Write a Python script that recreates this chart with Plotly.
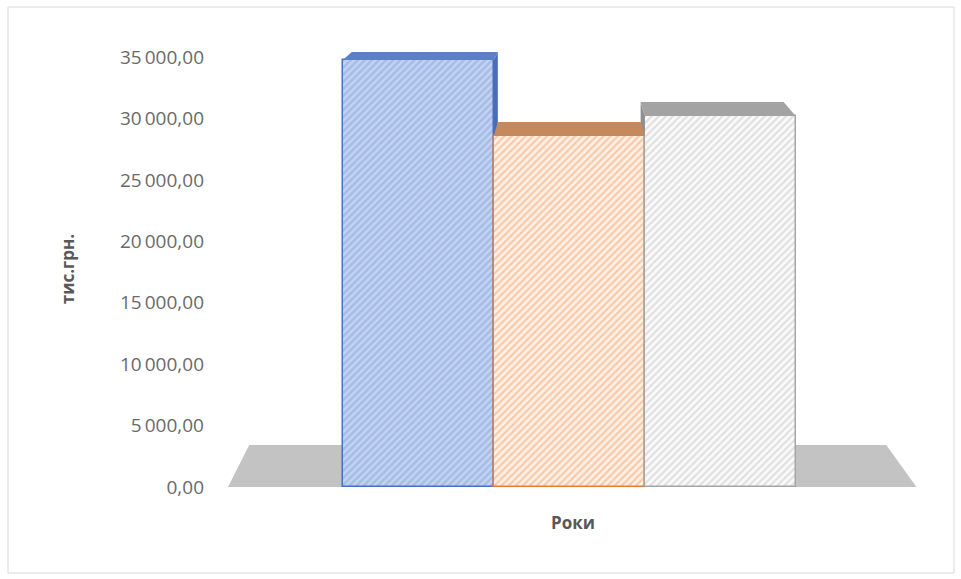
import plotly.graph_objects as go

# ---- data ----
categories = ["Рік 1", "Рік 2", "Рік 3"]
values = [34760, 28570, 30200]
y_title = "тис.грн."
x_title = "Роки"

# ---- styles ----
face_bg = ["#a7bde9", "#fff1e7", "#fafafa"]
face_fg = ["#e4ebf9", "#f3a068", "#c6c6c6"]
outline = ["#4472c4", "#ed7d31", "#a5a5a5"]
top_col = ["#5c80c6", "#c5895d", "#a3a3a3"]
side_col = ["#4a6db5", "#b87a4e", "#8f8f8f"]
depth_px = [8, 14, 14]
back_shift_l = [0.06, 0.027, -0.027]
back_shift_r = [0.027, -0.027, -0.08]

Y_MAX = 35500
PLOT_H = 436
u_per_px = Y_MAX / PLOT_H

xs = list(range(len(categories)))

fig = go.Figure()

for i, (cat, v) in enumerate(zip(categories, values)):
    fig.add_trace(go.Bar(
        x=[xs[i]], y=[v], width=1, name=cat,
        marker=dict(
            color=face_bg[i],
            line=dict(color=outline[i], width=1.5),
            pattern=dict(shape="/", fgcolor=face_fg[i], bgcolor=face_bg[i],
                         size=5, solidity=0.45, fillmode="overlay"),
        ),
        showlegend=False,
    ))

v0, v1, v2 = values
# blue: right side face, visible above orange
d0 = depth_px[0] * u_per_px
fig.add_trace(go.Scatter(
    x=[xs[0] + 0.5, xs[0] + 0.5 + back_shift_r[0], xs[0] + 0.5 + back_shift_r[0], xs[0] + 0.5],
    y=[v0, v0 + d0, v1, v1],
    fill="toself", fillcolor=side_col[0], mode="lines", line=dict(width=0),
    hoverinfo="skip", showlegend=False))
# gray: left side face, visible above orange
d2 = depth_px[2] * u_per_px
fig.add_trace(go.Scatter(
    x=[xs[2] - 0.5, xs[2] - 0.5 + back_shift_l[2], xs[2] - 0.5 + back_shift_l[2], xs[2] - 0.5],
    y=[v2, v2 + d2, v1, v1],
    fill="toself", fillcolor=side_col[2], mode="lines", line=dict(width=0),
    hoverinfo="skip", showlegend=False))

# top faces
for i, v in enumerate(values):
    d = depth_px[i] * u_per_px
    fig.add_trace(go.Scatter(
        x=[xs[i] - 0.5, xs[i] + 0.5, xs[i] + 0.5 + back_shift_r[i], xs[i] - 0.5 + back_shift_l[i], xs[i] - 0.5],
        y=[v, v, v + d, v + d, v],
        fill="toself", fillcolor=top_col[i], mode="lines", line=dict(width=0),
        hoverinfo="skip", showlegend=False))

# floor
fy = 42 * u_per_px
fig.add_shape(type="path", xref="x", yref="y", layer="below",
              path=f"M -1.26,0 L 3.30,0 L 3.10,{fy} L -1.12,{fy} Z",
              fillcolor="#c3c3c3", line=dict(width=0))

# chart border
fig.add_shape(type="rect", xref="paper", yref="paper",
              x0=(8 - 222) / 702, x1=(954 - 222) / 702,
              y0=(487 - 573) / 436, y1=(487 - 7) / 436,
              line=dict(color="#d9d9d9", width=1), fillcolor="rgba(0,0,0,0)")

fig.update_layout(
    width=961, height=579,
    margin=dict(l=222, r=37, t=51, b=92),
    paper_bgcolor="white", plot_bgcolor="white",
    font=dict(family="Open Sans", color="#595959"),
    separators=",\u2009",
    barmode="overlay",
    bargap=0,
    xaxis=dict(range=[-1.3, 3.35], showticklabels=False, showgrid=False,
               zeroline=False, showline=False, ticks="",
               title=dict(text=f"<b>{x_title}</b>", font=dict(size=17, color="#595959"),
                          standoff=30)),
    yaxis=dict(range=[0, Y_MAX], tick0=0, dtick=5000, tickformat=",.2f",
               showgrid=False, zeroline=False, showline=False, ticks="",
               ticklabelstandoff=17,
               tickfont=dict(size=19, color="#6a6a6a"),
               title=dict(text=f"<b>{y_title}</b>", font=dict(size=17, color="#595959"),
                          standoff=40)),
)

fig.write_html("out.html")
